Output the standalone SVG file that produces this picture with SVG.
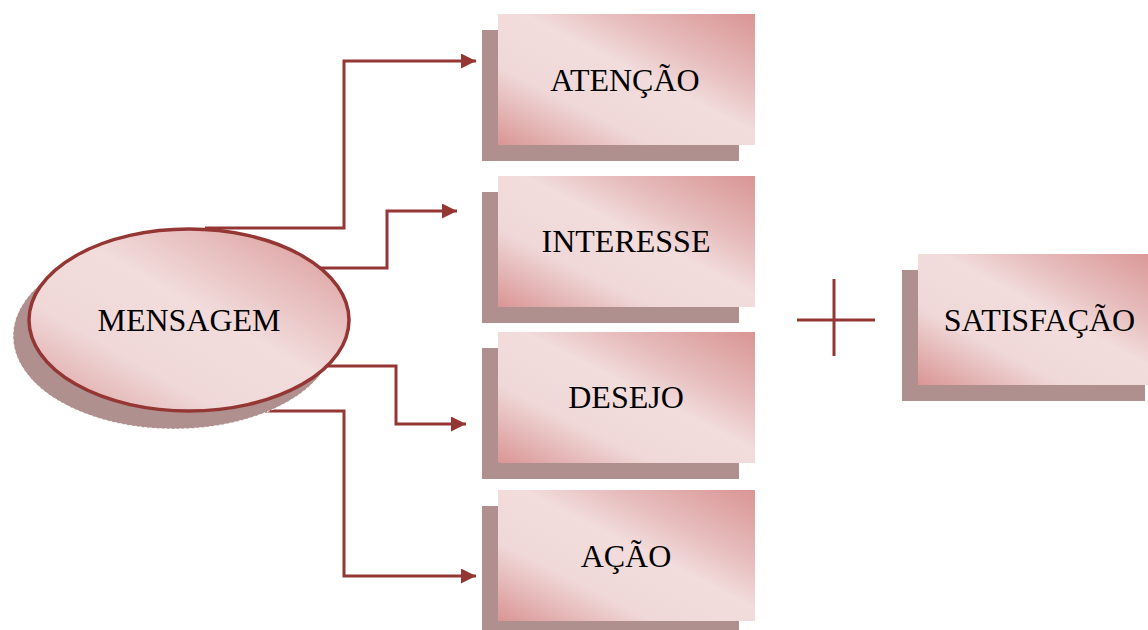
<svg xmlns="http://www.w3.org/2000/svg" width="1148" height="630" viewBox="0 0 1148 630">
<defs>
<linearGradient id="gb" x1="0" y1="1" x2="1" y2="0">
<stop offset="0" stop-color="#d99594"/>
<stop offset="0.3" stop-color="#f0d8d8"/>
<stop offset="0.55" stop-color="#f2dcdc"/>
<stop offset="0.72" stop-color="#e7bdbd"/>
<stop offset="1" stop-color="#d99594"/>
</linearGradient>
<linearGradient id="ge" x1="0" y1="1" x2="1" y2="0">
<stop offset="0" stop-color="#d99a99"/>
<stop offset="0.3" stop-color="#f0d8d8"/>
<stop offset="0.55" stop-color="#f2dcdc"/>
<stop offset="0.75" stop-color="#e7bdbd"/>
<stop offset="1" stop-color="#d99594"/>
</linearGradient>
<marker id="arr" viewBox="0 0 10 10" refX="10" refY="5" markerWidth="16" markerHeight="15" markerUnits="userSpaceOnUse" orient="auto">
<path d="M0,0 L10,5 L0,10 Z" fill="#943634"/>
</marker>
<style>
.shadow{fill:#af908e}
.front{fill:url(#gb)}
.lbl{font-family:"Liberation Serif","Times New Roman",serif;font-size:32px;fill:#000;text-anchor:middle}
.conn{fill:none;stroke:#943634;stroke-width:3;marker-end:url(#arr)}
</style>
</defs>

<g id="connectors">
<polyline class="conn" points="205,228 344,228 344,61 476,61"/>
<polyline class="conn" points="300,268 387,268 387,211 457,211"/>
<polyline class="conn" points="300,366 396,366 396,424 466,424"/>
<polyline class="conn" points="200,411 344,411 344,576 476,576"/>
</g>

<g id="mensagem">
<ellipse cx="174" cy="336" rx="161" ry="93" fill="#af908e" stroke="#ffffff" stroke-width="1" stroke-dasharray="3,2"/>
<ellipse cx="189" cy="320" rx="160" ry="91" fill="url(#ge)" stroke="#943634" stroke-width="3.5"/>
<text class="lbl" x="189" y="331">MENSAGEM</text>
</g>

<g id="atencao">
<rect class="shadow" x="482" y="30" width="257" height="131"/>
<rect class="front" x="498" y="14" width="257" height="131"/>
<text class="lbl" x="625" y="91">ATENÇÃO</text>
</g>

<g id="interesse">
<rect class="shadow" x="482" y="192" width="257" height="131"/>
<rect class="front" x="498" y="176" width="257" height="131"/>
<text class="lbl" x="626" y="252">INTERESSE</text>
</g>

<g id="desejo">
<rect class="shadow" x="482" y="348" width="257" height="131"/>
<rect class="front" x="498" y="332" width="257" height="131"/>
<text class="lbl" x="626" y="408">DESEJO</text>
</g>

<g id="acao">
<rect class="shadow" x="482" y="506" width="257" height="131"/>
<rect class="front" x="498" y="490" width="257" height="131"/>
<text class="lbl" x="626" y="567">AÇÃO</text>
</g>

<g id="plus">
<line x1="797" y1="320" x2="875" y2="320" stroke="#943634" stroke-width="3"/>
<line x1="834" y1="279" x2="834" y2="356" stroke="#943634" stroke-width="3"/>
</g>

<g id="satisfacao">
<rect class="shadow" x="902" y="270" width="243" height="131"/>
<rect class="front" x="918" y="254" width="243" height="131"/>
<text class="lbl" x="1039.5" y="331">SATISFAÇÃO</text>
</g>
</svg>
